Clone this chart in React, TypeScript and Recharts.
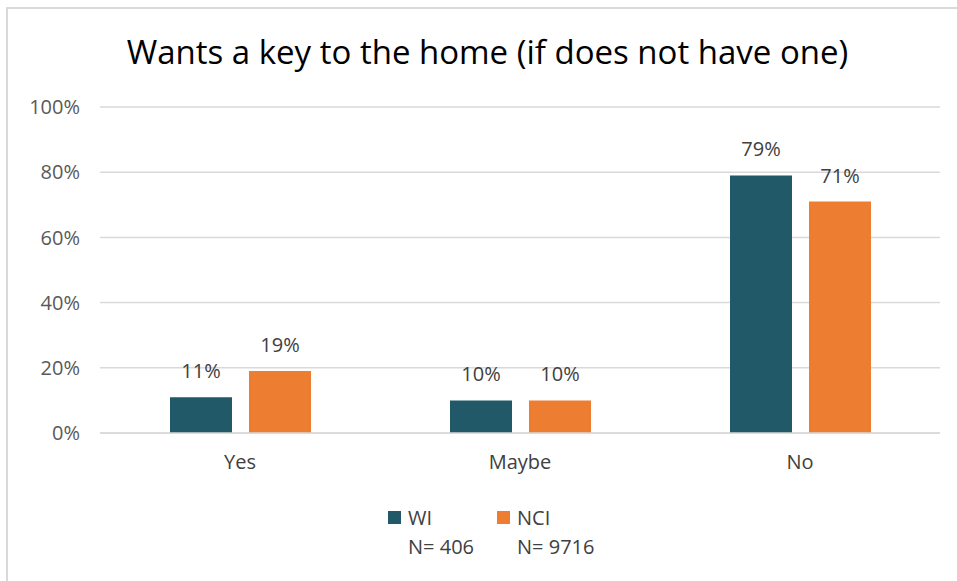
import { BarChart, Bar, XAxis, YAxis, CartesianGrid, LabelList } from 'recharts';

const CATEGORIES = ['Yes', 'Maybe', 'No'];
const WI_VALUES = [11, 10, 79];
const NCI_VALUES = [19, 10, 71];
const Y_TICKS = [0, 20, 40, 60, 80, 100];
const SERIES = [
  { key: 'WI', label: 'WI', n: 'N= 406', color: '#215968' },
  { key: 'NCI', label: 'NCI', n: 'N= 9716', color: '#ED7D31' },
];

const FONT = '"Open Sans", sans-serif';

const data = CATEGORIES.map((cat, i) => ({ cat, WI: WI_VALUES[i], NCI: NCI_VALUES[i] }));

function LegendBlock() {
  return (
    <div
      style={{
        position: 'absolute',
        left: 388,
        top: 503,
        display: 'flex',
        fontFamily: FONT,
        fontSize: 20,
        color: '#404040',
      }}
    >
      {SERIES.map((s) => (
        <div key={s.key} style={{ width: 109, lineHeight: '29px' }}>
          <div style={{ display: 'flex', alignItems: 'center' }}>
            <span style={{ display: 'inline-block', width: 13, height: 13, background: s.color, marginRight: 7 }} />
            <span>{s.label}</span>
          </div>
          <div style={{ paddingLeft: 20 }}>{s.n}</div>
        </div>
      ))}
    </div>
  );
}

export default function App() {
  return (
    <div style={{ position: 'fixed', left: 0, top: 0, width: 957, height: 581, background: '#fff' }}>
      <div style={{ position: 'absolute', left: 6, top: 7, right: 0, height: 2, background: '#d9d9d9' }} />
      <div style={{ position: 'absolute', left: 6, top: 7, bottom: 0, width: 2, background: '#d9d9d9' }} />
      <div
        style={{
          position: 'absolute',
          left: 0,
          width: 975,
          top: 29,
          textAlign: 'center',
          fontFamily: FONT,
          fontSize: 33,
          color: '#000',
          lineHeight: '46px',
        }}
      >
        Wants a key to the home (if does not have one)
      </div>
      <BarChart
        width={957}
        height={581}
        data={data}
        margin={{ top: 107, right: 17, left: 0, bottom: 108 }}
        barSize={62}
        barGap={17}
        style={{ fontFamily: FONT }}
      >
        <CartesianGrid vertical={false} stroke="#d9d9d9" strokeWidth={1.5} />
        <XAxis
          dataKey="cat"
          axisLine={{ stroke: '#d9d9d9', strokeWidth: 1.5 }}
          tickLine={false}
          tickMargin={16}
          tick={{ fill: '#404040', fontSize: 20 }}
          height={40}
        />
        <YAxis
          domain={[0, 100]}
          ticks={Y_TICKS}
          tickFormatter={(v) => `${v}%`}
          axisLine={false}
          tickLine={false}
          tickMargin={14}
          width={100}
          tick={{ fill: '#595959', fontSize: 20 }}
        />
        {SERIES.map((s) => (
          <Bar key={s.key} dataKey={s.key} fill={s.color} isAnimationActive={false}>
            <LabelList
              dataKey={s.key}
              position="top"
              offset={19}
              formatter={(v: number) => `${v}%`}
              style={{ fill: '#404040', fontSize: 20 }}
            />
          </Bar>
        ))}
      </BarChart>
      <LegendBlock />
    </div>
  );
}
